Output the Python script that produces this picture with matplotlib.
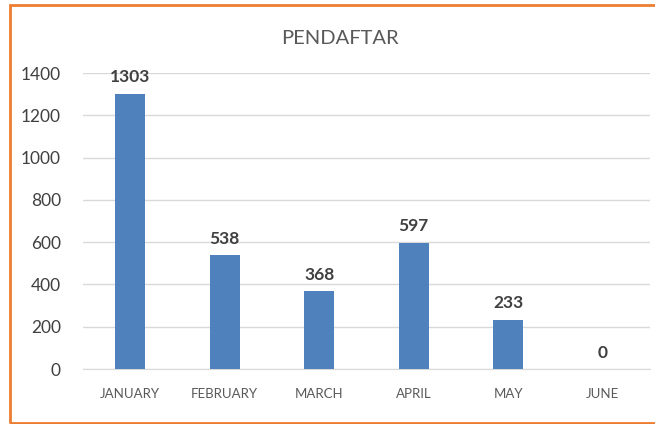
import matplotlib.pyplot as plt
from matplotlib.patches import Rectangle

months = ["JANUARY", "FEBRUARY", "MARCH", "APRIL", "MAY", "JUNE"]
pendaftar = [1303, 538, 368, 597, 233, 0]
yticks = [0, 200, 400, 600, 800, 1000, 1200, 1400]

plt.rcParams["font.family"] = ["Lato", "DejaVu Sans"]

fig = plt.figure(figsize=(6.55, 4.24), dpi=100)
ax = fig.add_axes([83 / 655, 1 - 369 / 424, 567 / 655, 296 / 424])

x = range(len(months))
bars = ax.bar(x, pendaftar, width=0.32, color="#4F81BD", zorder=3)

for b, v in zip(bars, pendaftar):
    ax.text(b.get_x() + b.get_width() / 2, v + 40, str(v), ha="center", va="bottom",
            fontsize=12.5, fontweight="bold", color="#404040")

ax.set_xlim(-0.5, len(months) - 0.5)
ax.set_ylim(0, 1400)
ax.set_yticks(yticks)
ax.set_xticks(list(x))
ax.set_xticklabels(months)
ax.tick_params(axis="y", length=0, labelsize=12.5, colors="#404040", pad=16)
ax.tick_params(axis="x", length=0, labelsize=9.5, colors="#595959", pad=14)
ax.grid(axis="y", color="#D9D9D9", linewidth=1, zorder=0)
for s in ["top", "right", "left"]:
    ax.spines[s].set_visible(False)
ax.spines["bottom"].set_color("#D9D9D9")

fig.text(340 / 655, 1 - 38 / 424, "PENDAFTAR", ha="center", va="center",
         fontsize=14.5, color="#595959")

# orange frame (right side cut off)
fig.patches.append(Rectangle((10 / 655, 1 - 423 / 424), 2, 418 / 424,
                             transform=fig.transFigure, fill=False,
                             edgecolor="#ED7D31", linewidth=2))

fig.savefig("out.png", dpi=100)
